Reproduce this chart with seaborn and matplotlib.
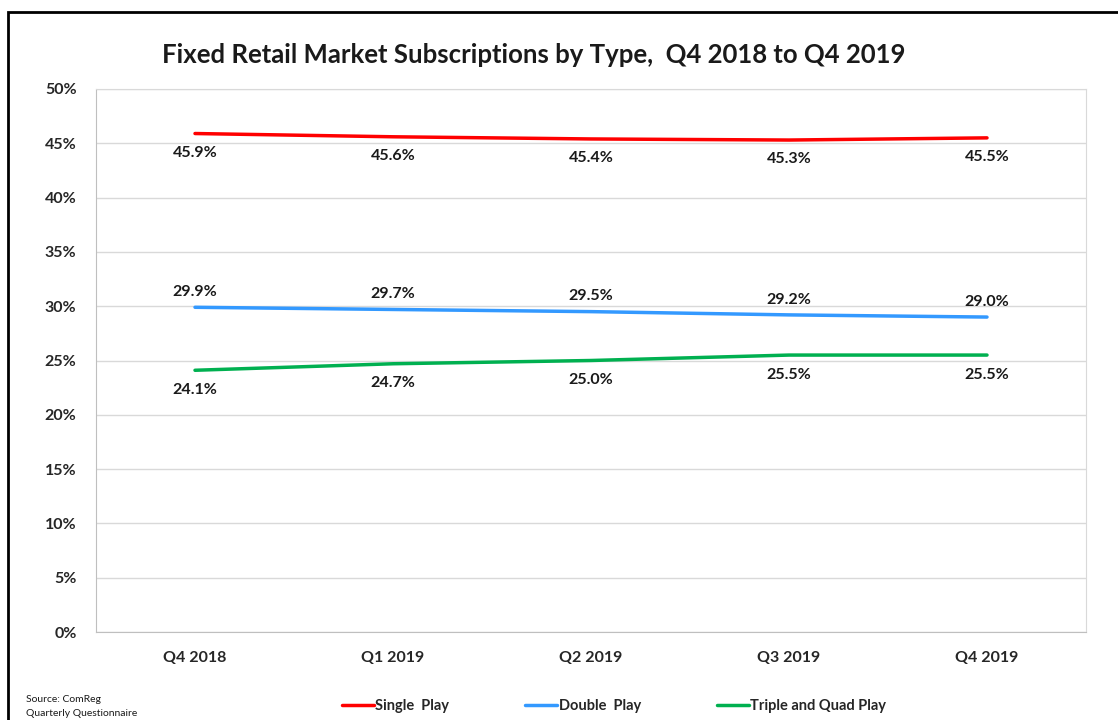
import pandas as pd
import matplotlib.pyplot as plt
import seaborn as sns
from matplotlib.patches import Rectangle

# Data
quarters = ['Q4 2018', 'Q1 2019', 'Q2 2019', 'Q3 2019', 'Q4 2019']
single_play = [45.9, 45.6, 45.4, 45.3, 45.5]
double_play = [29.9, 29.7, 29.5, 29.2, 29.0]
triple_quad = [24.1, 24.7, 25.0, 25.5, 25.5]

series_names = ['Single  Play', 'Double  Play', 'Triple and Quad Play']
colors = ['#FF0000', '#3399FF', '#00B050']

df = pd.DataFrame({
    'Quarter': quarters * 3,
    'pos': list(range(len(quarters))) * 3,
    'Value': single_play + double_play + triple_quad,
    'Type': [n for n in series_names for _ in quarters],
})

sns.set_style("white")
plt.rcParams['font.family'] = ['Lato', 'DejaVu Sans']

fig = plt.figure(figsize=(11.18, 7.2), dpi=100)
ax = fig.add_axes([96 / 1118, 1 - 632 / 720, 990 / 1118, 543 / 720])

sns.lineplot(data=df, x='pos', y='Value', hue='Type', palette=colors,
             hue_order=series_names, linewidth=2.5, ax=ax, legend=False)

# data labels
offsets = {'Single  Play': -14, 'Double  Play': 11, 'Triple and Quad Play': -14}
for name, vals in zip(series_names, [single_play, double_play, triple_quad]):
    for i, v in enumerate(vals):
        ax.annotate(f'{v:.1f}%', (i, v), xytext=(0, offsets[name]),
                    textcoords='offset points', ha='center', va='center',
                    fontsize=11.5, fontweight='bold', color='#1a1a1a')

ax.set_xlim(-0.5, len(quarters) - 0.5)
ax.set_ylim(0, 50)
ax.set_yticks(range(0, 51, 5))
ax.set_yticklabels([f'{t}%' for t in range(0, 51, 5)], fontsize=11.5, fontweight='bold')
ax.set_xticks(range(len(quarters)))
ax.set_xticklabels(quarters, fontsize=11.5, fontweight='bold')
ax.tick_params(axis='x', length=0, pad=14)
ax.tick_params(axis='y', length=0, pad=14)
ax.set_xlabel('')
ax.set_ylabel('')
ax.grid(axis='y', color='#d9d9d9', linewidth=1)
for s in ['top', 'right']:
    ax.spines[s].set_color('#d9d9d9')
for s in ['left', 'bottom']:
    ax.spines[s].set_color('#bfbfbf')

fig.text(534 / 1118, 1 - 55 / 720, 'Fixed Retail Market Subscriptions by Type,  Q4 2018 to Q4 2019',
         ha='center', va='center', fontsize=18.5, fontweight='bold', color='#1a1a1a')

# legend
handles = [plt.Line2D([], [], color=c, linewidth=2.5) for c in colors]
fig.legend(handles, series_names, loc='center', bbox_to_anchor=(614 / 1118, 1 - 706 / 720),
           ncol=3, frameon=False, handlelength=2.2, handletextpad=0.1, columnspacing=5.2,
           prop={'size': 10.5, 'weight': 'bold'})

fig.text(26 / 1118, 1 - 700 / 720, 'Source: ComReg', fontsize=7.5, va='center', color='#1a1a1a')
fig.text(26 / 1118, 1 - 714 / 720, 'Quarterly Questionnaire', fontsize=7.5, va='center', color='#1a1a1a')

# outer border
fig.patches.append(Rectangle((8 / 1118, -0.05), 1.2, 1 - 12 / 720 + 0.05, transform=fig.transFigure,
                             fill=False, edgecolor='black', linewidth=2))

fig.savefig('out.png', dpi=100)
